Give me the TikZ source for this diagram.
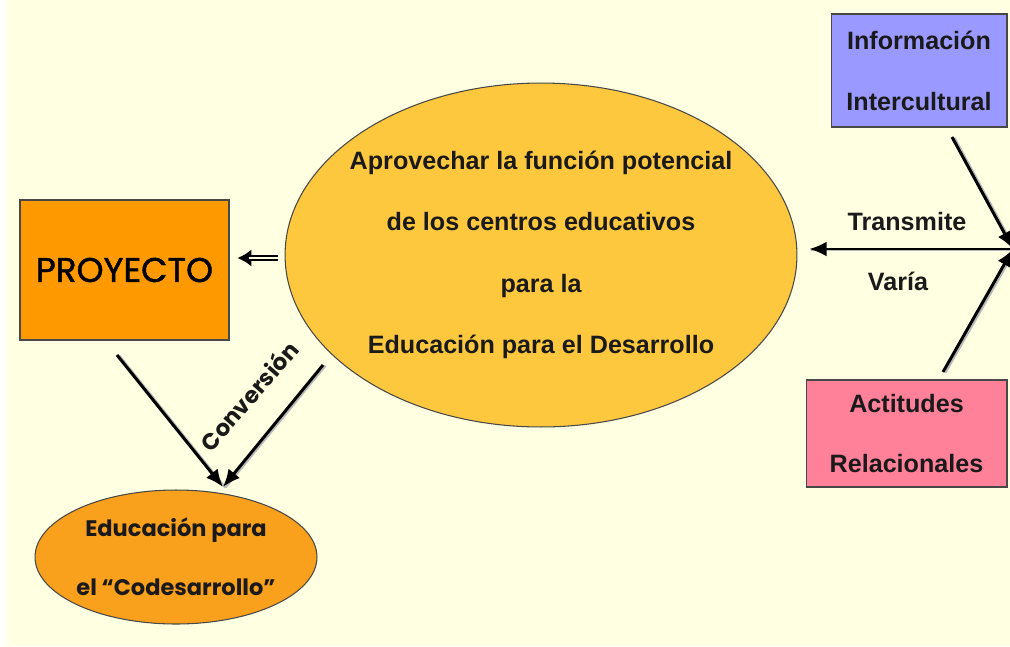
\documentclass[tikz,border=0pt]{standalone}
\usepackage{fontspec}
\setmainfont{Liberation Sans}
\newfontfamily\comic{Poppins}
\usetikzlibrary{arrows.meta,shapes.geometric}
\definecolor{fondo}{HTML}{FFFFE1}
\definecolor{oro}{HTML}{FDC83E}
\definecolor{naranja}{HTML}{FF9900}
\definecolor{naranjab}{HTML}{F9A01C}
\definecolor{lila}{HTML}{9999FF}
\definecolor{rosa}{HTML}{FF8099}
\definecolor{tinta}{HTML}{1A1A1A}

\begin{document}
\begin{tikzpicture}[x=0.02cm,y=-0.02cm,
		caja/.style={draw=tinta!80,line width=0.6pt,inner sep=0pt,align=center},
		texto/.style={font=\fontsize{14.3}{35}\selectfont\bfseries,text=tinta},
		flecha/.style={line width=1.7pt,-{Latex[length=10pt,width=8.5pt]},
			preaction={draw=gray!55,line width=1.2pt,-,transform canvas={xshift=1.4pt,yshift=-0.4pt}}}]
		\fill[fondo] (0,0) rectangle (1010,646);
		\shade[left color=white,right color=fondo] (0,0) rectangle (12,646);
		\clip (0,0) rectangle (1010,646);
		\node (centro) at (541,255) [caja,ellipse,fill=oro,inner xsep=-12pt,minimum width=10.24cm,minimum height=6.88cm,texto]
			{Aprovechar la función potencial\\de los centros educativos\\para la\\Educación para el Desarrollo};
		\node (proy) at (124.5,270) [caja,rectangle,fill=naranja,minimum width=4.18cm,minimum height=2.8cm,
			font=\comic\fontsize{19.5}{22}\selectfont\addfontfeatures{FakeBold=1.3},text=black] {PROYECTO};
		\node (codes) at (176,557) [caja,ellipse,fill=naranjab,minimum width=5.64cm,minimum height=2.68cm,
			font=\comic\fontsize{12.8}{33.5}\selectfont\bfseries,text=tinta] {Educación para\\el “Codesarrollo”};
		\node (info) at (919,70.5) [caja,rectangle,fill=lila,minimum width=3.52cm,minimum height=2.26cm,
			texto,font=\fontsize{14.3}{34.7}\selectfont\bfseries] {Información\\Intercultural};
		\node (acti) at (906.5,433.5) [caja,rectangle,fill=rosa,minimum width=4.02cm,minimum height=2.14cm,
			texto,font=\fontsize{14.3}{34}\selectfont\bfseries] {Actitudes\\Relacionales};
		\coordinate (nudo) at (1013,249);
		\coordinate (deinfo) at (952,137);
		\coordinate (deacti) at (943,372);
		\coordinate (deproy) at (117,355);
		\coordinate (decentro) at (323,365);
		\coordinate (meta) at (223,487);
		\coordinate (doble) at (278,258);
		\draw[flecha] (deinfo) -- (nudo);
		\draw[flecha] (deacti) -- (nudo);
		\draw[flecha] (nudo) -- (809,249);
		\node (transmite) at (907,222) [texto] {Transmite};
		\node (varia) at (898,281) [texto] {Varía};
		\draw[flecha] (deproy) -- (meta);
		\draw[flecha] (decentro) -- (meta);
		\node (conv) at (249,396) [rotate=49,font=\comic\fontsize{13}{15}\selectfont\bfseries,text=tinta] {Conversión};
		\draw[line width=3.6pt,shorten >=4.5pt,-{Latex[length=8pt,width=10pt]}] (doble) -- (doble -| proy.east);
		\draw[fondo,line width=1.2pt,shorten >=11pt] (doble) -- (doble -| proy.east);
	\end{tikzpicture}
\end{document}
